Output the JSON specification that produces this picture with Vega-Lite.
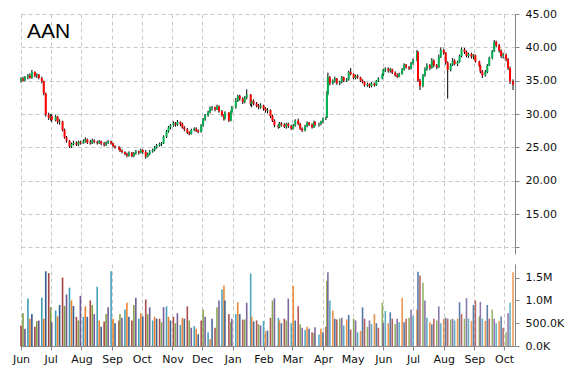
{
"$schema": "https://vega.github.io/schema/vega-lite/v6.json",
"padding": {"left": 12, "top": 8, "right": 5, "bottom": 5},
"background": "white",
"spacing": 10,
"config": {"view": {"stroke": null}, "axis": {"labelOverlap": false, "labelFont": "DejaVu Sans", "labelFontSize": 11, "labelColor": "#111111", "domainColor": "#868686", "tickColor": "#868686", "gridColor": "#c8c8c8", "gridDash": [4, 3]}},
"datasets": {"p": [
{"d":"2015-06-01","o":35.0,"h":35.5,"l":34.7,"c":35.3,"v":450},
{"d":"2015-06-03","o":35.3,"h":35.6,"l":34.9,"c":35.0,"v":720},
{"d":"2015-06-05","o":35.0,"h":35.7,"l":34.9,"c":35.5,"v":380},
{"d":"2015-06-08","o":35.5,"h":36.0,"l":35.2,"c":35.8,"v":1040},
{"d":"2015-06-10","o":35.8,"h":36.1,"l":35.3,"c":35.4,"v":600},
{"d":"2015-06-12","o":35.4,"h":36.6,"l":35.3,"c":36.3,"v":700},
{"d":"2015-06-15","o":36.3,"h":36.4,"l":35.5,"c":35.7,"v":420},
{"d":"2015-06-17","o":35.7,"h":36.1,"l":35.4,"c":35.9,"v":550},
{"d":"2015-06-19","o":35.9,"h":36.0,"l":35.2,"c":35.4,"v":560},
{"d":"2015-06-22","o":35.4,"h":35.6,"l":34.6,"c":34.9,"v":1060},
{"d":"2015-06-24","o":34.9,"h":35.0,"l":32.8,"c":33.1,"v":600},
{"d":"2015-06-26","o":33.1,"h":33.2,"l":29.6,"c":29.9,"v":1640},
{"d":"2015-06-29","o":29.9,"h":30.2,"l":29.1,"c":29.4,"v":1600},
{"d":"2015-07-01","o":29.4,"h":30.0,"l":29.0,"c":29.7,"v":850},
{"d":"2015-07-02","o":29.7,"h":29.9,"l":28.8,"c":29.1,"v":520},
{"d":"2015-07-06","o":29.1,"h":29.9,"l":28.9,"c":29.6,"v":780},
{"d":"2015-07-08","o":29.6,"h":29.7,"l":28.5,"c":28.8,"v":650},
{"d":"2015-07-10","o":28.8,"h":29.2,"l":28.4,"c":28.9,"v":900},
{"d":"2015-07-13","o":28.9,"h":29.0,"l":27.4,"c":27.6,"v":1500},
{"d":"2015-07-15","o":27.6,"h":27.8,"l":26.3,"c":26.5,"v":880},
{"d":"2015-07-17","o":26.5,"h":26.7,"l":25.7,"c":26.0,"v":1130},
{"d":"2015-07-20","o":26.0,"h":26.1,"l":24.9,"c":25.1,"v":1280},
{"d":"2015-07-22","o":25.1,"h":25.7,"l":24.9,"c":25.5,"v":1000},
{"d":"2015-07-24","o":25.5,"h":26.0,"l":25.3,"c":25.7,"v":880},
{"d":"2015-07-27","o":25.7,"h":25.9,"l":25.2,"c":25.4,"v":640},
{"d":"2015-07-29","o":25.4,"h":26.0,"l":25.2,"c":25.8,"v":560},
{"d":"2015-07-31","o":25.8,"h":26.0,"l":25.4,"c":25.6,"v":1100},
{"d":"2015-08-03","o":25.6,"h":26.2,"l":25.5,"c":25.9,"v":640},
{"d":"2015-08-05","o":25.9,"h":26.5,"l":25.7,"c":26.2,"v":870},
{"d":"2015-08-07","o":26.2,"h":26.3,"l":25.5,"c":25.7,"v":640},
{"d":"2015-08-10","o":25.7,"h":26.1,"l":25.4,"c":25.6,"v":1000},
{"d":"2015-08-12","o":25.6,"h":26.3,"l":25.5,"c":26.0,"v":900},
{"d":"2015-08-14","o":26.0,"h":26.2,"l":25.6,"c":25.8,"v":700},
{"d":"2015-08-17","o":25.8,"h":26.0,"l":25.4,"c":25.7,"v":1300},
{"d":"2015-08-19","o":25.7,"h":26.1,"l":25.5,"c":25.9,"v":560},
{"d":"2015-08-21","o":25.9,"h":26.0,"l":25.3,"c":25.6,"v":420},
{"d":"2015-08-24","o":25.6,"h":25.8,"l":25.1,"c":25.4,"v":540},
{"d":"2015-08-26","o":25.4,"h":25.9,"l":25.2,"c":25.7,"v":700},
{"d":"2015-08-28","o":25.7,"h":26.1,"l":25.5,"c":25.9,"v":850},
{"d":"2015-08-31","o":25.9,"h":26.0,"l":25.4,"c":25.6,"v":1640},
{"d":"2015-09-02","o":25.6,"h":25.7,"l":25.0,"c":25.2,"v":600},
{"d":"2015-09-04","o":25.2,"h":25.3,"l":24.8,"c":25.0,"v":500},
{"d":"2015-09-08","o":25.0,"h":25.2,"l":24.6,"c":24.8,"v":560},
{"d":"2015-09-09","o":24.8,"h":25.0,"l":24.3,"c":24.5,"v":700},
{"d":"2015-09-11","o":24.5,"h":24.7,"l":24.1,"c":24.3,"v":620},
{"d":"2015-09-14","o":24.3,"h":24.4,"l":23.8,"c":24.0,"v":800},
{"d":"2015-09-16","o":24.0,"h":24.2,"l":23.5,"c":23.8,"v":950},
{"d":"2015-09-18","o":23.8,"h":24.4,"l":23.6,"c":24.2,"v":640},
{"d":"2015-09-21","o":24.2,"h":24.3,"l":23.5,"c":23.7,"v":560},
{"d":"2015-09-23","o":23.7,"h":24.3,"l":23.5,"c":24.1,"v":900},
{"d":"2015-09-25","o":24.1,"h":24.6,"l":23.9,"c":24.4,"v":1060},
{"d":"2015-09-28","o":24.4,"h":24.5,"l":23.9,"c":24.2,"v":600},
{"d":"2015-09-30","o":24.2,"h":24.8,"l":24.1,"c":24.6,"v":720},
{"d":"2015-10-02","o":24.6,"h":24.7,"l":24.0,"c":24.3,"v":650},
{"d":"2015-10-05","o":24.3,"h":24.6,"l":23.3,"c":23.6,"v":1020},
{"d":"2015-10-07","o":23.6,"h":24.2,"l":23.5,"c":24.0,"v":700},
{"d":"2015-10-09","o":24.0,"h":24.6,"l":23.8,"c":24.4,"v":850},
{"d":"2015-10-12","o":24.4,"h":24.8,"l":24.2,"c":24.6,"v":560},
{"d":"2015-10-14","o":24.6,"h":25.2,"l":24.4,"c":25.0,"v":640},
{"d":"2015-10-16","o":25.0,"h":25.5,"l":24.8,"c":25.3,"v":600},
{"d":"2015-10-19","o":25.3,"h":25.7,"l":25.1,"c":25.5,"v":600},
{"d":"2015-10-21","o":25.5,"h":25.8,"l":25.2,"c":25.6,"v":520},
{"d":"2015-10-23","o":25.6,"h":26.8,"l":25.5,"c":26.6,"v":850},
{"d":"2015-10-26","o":26.6,"h":27.6,"l":26.4,"c":27.4,"v":870},
{"d":"2015-10-28","o":27.4,"h":28.2,"l":27.2,"c":28.0,"v":640},
{"d":"2015-10-30","o":28.0,"h":28.5,"l":27.7,"c":28.3,"v":560},
{"d":"2015-11-02","o":28.3,"h":28.9,"l":28.1,"c":28.6,"v":640},
{"d":"2015-11-04","o":28.6,"h":28.8,"l":28.1,"c":28.4,"v":500},
{"d":"2015-11-06","o":28.4,"h":29.1,"l":28.2,"c":28.8,"v":720},
{"d":"2015-11-09","o":28.8,"h":28.9,"l":28.2,"c":28.5,"v":460},
{"d":"2015-11-11","o":28.5,"h":28.7,"l":27.8,"c":28.0,"v":620},
{"d":"2015-11-13","o":28.0,"h":28.2,"l":27.4,"c":27.7,"v":600},
{"d":"2015-11-16","o":27.7,"h":27.9,"l":27.0,"c":27.2,"v":870},
{"d":"2015-11-18","o":27.2,"h":27.4,"l":26.8,"c":27.0,"v":560},
{"d":"2015-11-20","o":27.0,"h":27.8,"l":26.9,"c":27.6,"v":400},
{"d":"2015-11-23","o":27.6,"h":28.0,"l":27.4,"c":27.8,"v":440},
{"d":"2015-11-25","o":27.8,"h":28.0,"l":27.3,"c":27.5,"v":380},
{"d":"2015-11-27","o":27.5,"h":27.7,"l":27.1,"c":27.3,"v":260},
{"d":"2015-11-30","o":27.3,"h":28.5,"l":27.2,"c":28.3,"v":560},
{"d":"2015-12-02","o":28.3,"h":29.4,"l":28.1,"c":29.2,"v":800},
{"d":"2015-12-04","o":29.2,"h":30.0,"l":29.0,"c":29.8,"v":640},
{"d":"2015-12-07","o":29.8,"h":30.5,"l":29.6,"c":30.3,"v":300},
{"d":"2015-12-09","o":30.3,"h":31.1,"l":30.1,"c":30.9,"v":150},
{"d":"2015-12-11","o":30.9,"h":31.2,"l":30.5,"c":31.0,"v":600},
{"d":"2015-12-14","o":31.0,"h":31.1,"l":30.4,"c":30.7,"v":400},
{"d":"2015-12-16","o":30.7,"h":31.4,"l":30.6,"c":31.1,"v":850},
{"d":"2015-12-18","o":31.1,"h":31.3,"l":30.2,"c":30.4,"v":1000},
{"d":"2015-12-21","o":30.4,"h":30.6,"l":29.6,"c":29.8,"v":1240},
{"d":"2015-12-23","o":29.8,"h":30.0,"l":29.0,"c":29.3,"v":1330},
{"d":"2015-12-24","o":29.3,"h":30.4,"l":29.2,"c":30.2,"v":1000},
{"d":"2015-12-28","o":30.2,"h":30.3,"l":28.8,"c":29.0,"v":700},
{"d":"2015-12-30","o":29.0,"h":30.5,"l":28.9,"c":30.3,"v":520},
{"d":"2015-12-31","o":30.3,"h":31.2,"l":30.1,"c":31.0,"v":600},
{"d":"2016-01-04","o":31.0,"h":32.4,"l":30.8,"c":32.0,"v":700},
{"d":"2016-01-06","o":32.0,"h":32.9,"l":31.8,"c":32.7,"v":960},
{"d":"2016-01-08","o":32.7,"h":32.9,"l":32.0,"c":32.3,"v":700},
{"d":"2016-01-11","o":32.3,"h":32.5,"l":31.5,"c":31.8,"v":580},
{"d":"2016-01-13","o":31.8,"h":32.7,"l":31.6,"c":32.5,"v":580},
{"d":"2016-01-15","o":32.5,"h":33.7,"l":32.2,"c":32.9,"v":950},
{"d":"2016-01-19","o":32.9,"h":33.0,"l":31.2,"c":31.5,"v":1590},
{"d":"2016-01-20","o":31.5,"h":32.1,"l":31.0,"c":31.9,"v":640},
{"d":"2016-01-22","o":31.9,"h":32.2,"l":31.3,"c":31.6,"v":540},
{"d":"2016-01-25","o":31.6,"h":31.8,"l":31.0,"c":31.2,"v":560},
{"d":"2016-01-27","o":31.2,"h":31.5,"l":30.7,"c":31.0,"v":480},
{"d":"2016-01-29","o":31.0,"h":31.6,"l":30.8,"c":31.3,"v":450},
{"d":"2016-02-01","o":31.3,"h":31.4,"l":30.5,"c":30.8,"v":550},
{"d":"2016-02-03","o":30.8,"h":31.0,"l":30.2,"c":30.5,"v":320},
{"d":"2016-02-05","o":30.5,"h":30.9,"l":30.1,"c":30.6,"v":340},
{"d":"2016-02-08","o":30.6,"h":30.7,"l":29.4,"c":29.7,"v":620},
{"d":"2016-02-10","o":29.7,"h":29.9,"l":28.8,"c":29.0,"v":1000},
{"d":"2016-02-12","o":29.0,"h":29.2,"l":28.0,"c":28.3,"v":1050},
{"d":"2016-02-16","o":28.3,"h":28.5,"l":27.8,"c":28.0,"v":620},
{"d":"2016-02-17","o":28.0,"h":28.8,"l":27.9,"c":28.6,"v":560},
{"d":"2016-02-19","o":28.6,"h":28.8,"l":28.1,"c":28.4,"v":500},
{"d":"2016-02-22","o":28.4,"h":28.6,"l":27.9,"c":28.1,"v":600},
{"d":"2016-02-24","o":28.1,"h":28.7,"l":27.8,"c":28.5,"v":560},
{"d":"2016-02-26","o":28.5,"h":28.7,"l":27.9,"c":28.2,"v":1040},
{"d":"2016-02-29","o":28.2,"h":28.4,"l":27.6,"c":27.8,"v":500},
{"d":"2016-03-02","o":27.8,"h":28.5,"l":27.7,"c":28.3,"v":1320},
{"d":"2016-03-04","o":28.3,"h":29.2,"l":28.1,"c":29.0,"v":560},
{"d":"2016-03-07","o":29.0,"h":29.3,"l":28.3,"c":28.5,"v":870},
{"d":"2016-03-09","o":28.5,"h":28.7,"l":27.6,"c":27.8,"v":480},
{"d":"2016-03-11","o":27.8,"h":28.0,"l":27.3,"c":27.5,"v":400},
{"d":"2016-03-14","o":27.5,"h":28.4,"l":27.4,"c":28.2,"v":350},
{"d":"2016-03-16","o":28.2,"h":28.9,"l":28.0,"c":28.7,"v":420},
{"d":"2016-03-18","o":28.7,"h":28.8,"l":28.2,"c":28.4,"v":380},
{"d":"2016-03-21","o":28.4,"h":28.6,"l":27.8,"c":28.0,"v":300},
{"d":"2016-03-23","o":28.0,"h":29.0,"l":27.9,"c":28.8,"v":280},
{"d":"2016-03-24","o":28.8,"h":28.9,"l":28.2,"c":28.4,"v":410},
{"d":"2016-03-28","o":28.4,"h":28.7,"l":28.1,"c":28.5,"v":250},
{"d":"2016-03-30","o":28.5,"h":29.0,"l":28.3,"c":28.9,"v":380},
{"d":"2016-04-01","o":28.9,"h":29.5,"l":28.6,"c":29.3,"v":300},
{"d":"2016-04-04","o":29.3,"h":29.6,"l":29.1,"c":29.4,"v":420},
{"d":"2016-04-05","o":29.5,"h":33.4,"l":29.4,"c":33.0,"v":1430},
{"d":"2016-04-06","o":33.0,"h":36.2,"l":32.8,"c":35.5,"v":1620},
{"d":"2016-04-08","o":35.5,"h":35.7,"l":34.3,"c":34.6,"v":1000},
{"d":"2016-04-11","o":34.6,"h":35.2,"l":34.4,"c":34.9,"v":780},
{"d":"2016-04-13","o":34.9,"h":35.6,"l":34.7,"c":35.3,"v":600},
{"d":"2016-04-15","o":35.3,"h":35.4,"l":34.4,"c":34.6,"v":580},
{"d":"2016-04-18","o":34.6,"h":35.0,"l":34.3,"c":34.8,"v":600},
{"d":"2016-04-20","o":34.8,"h":35.7,"l":34.6,"c":35.5,"v":620},
{"d":"2016-04-22","o":35.5,"h":35.6,"l":34.8,"c":35.0,"v":450},
{"d":"2016-04-25","o":35.0,"h":35.4,"l":34.8,"c":35.2,"v":580},
{"d":"2016-04-27","o":35.2,"h":36.5,"l":35.0,"c":36.3,"v":680},
{"d":"2016-04-29","o":36.3,"h":36.9,"l":35.8,"c":36.0,"v":360},
{"d":"2016-05-02","o":36.0,"h":36.1,"l":35.2,"c":35.4,"v":600},
{"d":"2016-05-04","o":35.4,"h":35.9,"l":35.2,"c":35.7,"v":560},
{"d":"2016-05-06","o":35.7,"h":35.9,"l":35.3,"c":35.5,"v":300},
{"d":"2016-05-09","o":35.5,"h":35.6,"l":34.8,"c":35.0,"v":330},
{"d":"2016-05-11","o":35.0,"h":35.2,"l":34.6,"c":34.8,"v":850},
{"d":"2016-05-13","o":34.8,"h":34.9,"l":34.1,"c":34.3,"v":600},
{"d":"2016-05-16","o":34.3,"h":34.7,"l":34.1,"c":34.5,"v":420},
{"d":"2016-05-18","o":34.5,"h":34.6,"l":33.9,"c":34.2,"v":560},
{"d":"2016-05-20","o":34.2,"h":34.8,"l":34.0,"c":34.6,"v":480},
{"d":"2016-05-23","o":34.6,"h":34.7,"l":34.1,"c":34.3,"v":700},
{"d":"2016-05-25","o":34.3,"h":35.1,"l":34.2,"c":35.0,"v":500},
{"d":"2016-05-27","o":35.0,"h":35.5,"l":34.8,"c":35.3,"v":400},
{"d":"2016-05-31","o":35.3,"h":36.1,"l":35.2,"c":35.9,"v":950},
{"d":"2016-06-01","o":35.9,"h":36.8,"l":35.7,"c":36.6,"v":500},
{"d":"2016-06-03","o":36.6,"h":37.0,"l":36.3,"c":36.8,"v":770},
{"d":"2016-06-06","o":36.8,"h":37.0,"l":36.2,"c":36.5,"v":500},
{"d":"2016-06-08","o":36.5,"h":36.9,"l":36.2,"c":36.7,"v":740},
{"d":"2016-06-10","o":36.7,"h":36.8,"l":36.0,"c":36.2,"v":600},
{"d":"2016-06-13","o":36.2,"h":36.4,"l":35.6,"c":35.8,"v":480},
{"d":"2016-06-15","o":35.8,"h":36.1,"l":35.4,"c":35.6,"v":600},
{"d":"2016-06-17","o":35.6,"h":36.2,"l":35.5,"c":36.0,"v":520},
{"d":"2016-06-20","o":36.0,"h":36.9,"l":35.9,"c":36.7,"v":1060},
{"d":"2016-06-22","o":36.7,"h":37.6,"l":36.5,"c":37.4,"v":520},
{"d":"2016-06-24","o":37.4,"h":37.5,"l":36.8,"c":37.0,"v":600},
{"d":"2016-06-27","o":37.0,"h":37.2,"l":36.6,"c":36.8,"v":620},
{"d":"2016-06-29","o":36.8,"h":37.8,"l":36.7,"c":37.6,"v":800},
{"d":"2016-07-01","o":37.6,"h":38.3,"l":37.4,"c":38.1,"v":660},
{"d":"2016-07-05","o":38.1,"h":39.6,"l":37.9,"c":39.3,"v":800},
{"d":"2016-07-06","o":39.3,"h":39.4,"l":34.8,"c":35.0,"v":1630},
{"d":"2016-07-08","o":35.0,"h":35.3,"l":33.6,"c":34.2,"v":1550},
{"d":"2016-07-11","o":34.2,"h":36.0,"l":34.0,"c":35.8,"v":1390},
{"d":"2016-07-13","o":35.8,"h":37.0,"l":35.6,"c":36.7,"v":1000},
{"d":"2016-07-15","o":36.7,"h":37.6,"l":36.5,"c":37.3,"v":620},
{"d":"2016-07-18","o":37.3,"h":37.5,"l":36.6,"c":36.9,"v":520},
{"d":"2016-07-20","o":36.9,"h":38.4,"l":36.8,"c":38.0,"v":480},
{"d":"2016-07-22","o":38.0,"h":38.2,"l":37.0,"c":37.3,"v":600},
{"d":"2016-07-25","o":37.3,"h":37.5,"l":36.7,"c":37.0,"v":560},
{"d":"2016-07-27","o":37.0,"h":38.9,"l":36.9,"c":38.6,"v":870},
{"d":"2016-07-29","o":38.6,"h":40.0,"l":38.4,"c":39.6,"v":500},
{"d":"2016-08-01","o":39.6,"h":39.8,"l":38.9,"c":39.2,"v":600},
{"d":"2016-08-03","o":39.2,"h":39.3,"l":37.4,"c":37.7,"v":620},
{"d":"2016-08-05","o":37.7,"h":37.9,"l":32.3,"c":36.6,"v":600},
{"d":"2016-08-08","o":36.6,"h":37.6,"l":36.4,"c":37.4,"v":580},
{"d":"2016-08-10","o":37.4,"h":38.4,"l":37.2,"c":38.0,"v":600},
{"d":"2016-08-12","o":38.0,"h":38.2,"l":37.3,"c":37.5,"v":560},
{"d":"2016-08-15","o":37.5,"h":38.0,"l":37.2,"c":37.8,"v":600},
{"d":"2016-08-17","o":37.8,"h":38.9,"l":37.7,"c":38.7,"v":960},
{"d":"2016-08-19","o":38.7,"h":40.0,"l":38.5,"c":39.7,"v":700},
{"d":"2016-08-22","o":39.7,"h":39.9,"l":39.0,"c":39.3,"v":600},
{"d":"2016-08-24","o":39.3,"h":39.5,"l":38.5,"c":38.7,"v":1050},
{"d":"2016-08-26","o":38.7,"h":39.2,"l":38.4,"c":39.0,"v":600},
{"d":"2016-08-29","o":39.0,"h":39.2,"l":38.3,"c":38.6,"v":550},
{"d":"2016-08-31","o":38.6,"h":39.0,"l":38.2,"c":38.8,"v":900},
{"d":"2016-09-02","o":38.8,"h":38.9,"l":37.7,"c":37.9,"v":1000},
{"d":"2016-09-06","o":37.9,"h":38.0,"l":37.0,"c":37.2,"v":650},
{"d":"2016-09-07","o":37.2,"h":37.4,"l":36.1,"c":36.4,"v":970},
{"d":"2016-09-09","o":36.4,"h":36.6,"l":35.4,"c":35.8,"v":600},
{"d":"2016-09-12","o":35.8,"h":36.6,"l":35.6,"c":36.3,"v":550},
{"d":"2016-09-14","o":36.3,"h":37.5,"l":36.1,"c":37.3,"v":900},
{"d":"2016-09-16","o":37.3,"h":38.6,"l":37.2,"c":38.4,"v":600},
{"d":"2016-09-19","o":38.4,"h":39.6,"l":38.2,"c":39.4,"v":800},
{"d":"2016-09-21","o":39.4,"h":41.1,"l":39.3,"c":40.8,"v":600},
{"d":"2016-09-23","o":40.8,"h":41.0,"l":40.0,"c":40.3,"v":500},
{"d":"2016-09-26","o":40.3,"h":40.5,"l":39.2,"c":39.5,"v":550},
{"d":"2016-09-28","o":39.5,"h":39.7,"l":38.4,"c":38.7,"v":650},
{"d":"2016-09-30","o":38.7,"h":39.2,"l":38.3,"c":38.9,"v":400},
{"d":"2016-10-03","o":38.9,"h":39.1,"l":37.9,"c":38.2,"v":300},
{"d":"2016-10-05","o":38.2,"h":38.4,"l":36.6,"c":36.9,"v":720},
{"d":"2016-10-07","o":36.9,"h":37.1,"l":34.5,"c":34.9,"v":950},
{"d":"2016-10-10","o":34.9,"h":35.2,"l":33.6,"c":34.4,"v":1620}
]},
"vconcat": [
{
"width": 495, "height": 240,
"layer": [
{"data": {"name": "p"},
 "mark": {"type": "rule", "color": "#000000", "strokeWidth": 1},
 "encoding": {
  "x": {"field": "d", "type": "temporal",
        "scale": {"type": "utc", "padding": 0, "domain": [{"year": 2015, "month": 5, "date": 31, "utc": true}, {"year": 2016, "month": 10, "date": 12, "utc": true}]},
        "axis": {"title": null, "labels": false, "ticks": false, "domain": false, "grid": true, "tickCount": {"interval": "month", "step": 1}}},
  "y": {"field": "l", "type": "quantitative",
        "scale": {"domain": [9, 45], "nice": false, "zero": false, "padding": 0},
        "axis": {"orient": "right", "title": null, "values": [10, 15, 20, 25, 30, 35, 40, 45], "tickCount": 20, "format": ".2f", "labelOverlap": false, "labelOpacity": {"condition": {"test": "datum.value < 12", "value": 0}, "value": 1}, "grid": true, "tickSize": 4, "labelPadding": 6}},
  "y2": {"field": "h"}
 }},
{"data": {"name": "p"},
 "mark": {"type": "bar", "size": 2},
 "encoding": {
  "x": {"field": "d", "type": "temporal"},
  "y": {"field": "o", "type": "quantitative"},
  "y2": {"field": "c"},
  "color": {"condition": {"test": "datum.c >= datum.o", "value": "#00B050"}, "value": "#FF0000"}
 }},
{"data": {"values": [{"t": "AAN"}]},
 "mark": {"type": "text", "font": "Liberation Sans", "fontSize": 21, "align": "left", "baseline": "alphabetic", "color": "#000000"},
 "encoding": {
  "x": {"datum": {"year": 2015, "month": 6, "date": 7, "utc": true}, "type": "temporal"},
  "y": {"datum": 41.4, "type": "quantitative"},
  "text": {"field": "t"}
 }}
]
},
{
"width": 495, "height": 82,
"data": {"name": "p"},
"transform": [
 {"window": [{"op": "row_number", "as": "rn"}]},
 {"calculate": "datum.rn % 6", "as": "ci"}
],
"mark": {"type": "bar", "size": 1.6},
"encoding": {
 "x": {"field": "d", "type": "temporal",
       "scale": {"type": "utc", "padding": 0, "domain": [{"year": 2015, "month": 5, "date": 31, "utc": true}, {"year": 2016, "month": 10, "date": 12, "utc": true}]},
       "axis": {"title": null, "format": "%b", "grid": true, "tickCount": {"interval": "month", "step": 1}, "labelFlush": false, "labelOverlap": false, "tickSize": 4, "labelPadding": 3}},
 "y": {"field": "v", "type": "quantitative",
       "scale": {"domain": [0, 1800], "nice": false, "padding": 0},
       "axis": {"orient": "right", "title": null, "values": [0, 500, 1000, 1500], "tickCount": 20, "labelOverlap": false, "labelExpr": "datum.value >= 1000 ? format(datum.value / 1000, '.1f') + 'M' : format(datum.value, '.1f') + 'K'", "grid": false, "tickSize": 4, "labelPadding": 6}},
 "color": {"field": "ci", "type": "nominal", "scale": {"domain": [0, 1, 2, 3, 4, 5], "range": ["#2F5A8C", "#A33F3C", "#7C9B3E", "#6A5290", "#3A9AB4", "#E97B24"]}, "legend": null},
 "opacity": {"field": "d", "type": "temporal", "scale": {"type": "utc", "domain": [{"year": 2015, "month": 6, "date": 1, "utc": true}, {"year": 2016, "month": 3, "date": 1, "utc": true}, {"year": 2016, "month": 10, "date": 12, "utc": true}], "range": [1, 0.75, 0.3]}, "legend": null}
}
}
]
}
